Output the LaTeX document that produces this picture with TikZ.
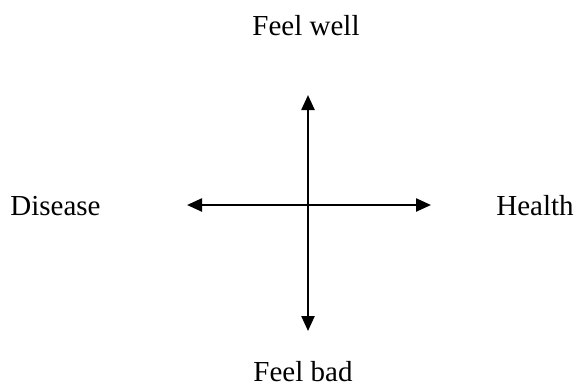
\documentclass[tikz,border=0pt]{standalone}
\usepackage{fontspec}
\setmainfont{Liberation Serif}
\usetikzlibrary{arrows.meta,positioning}

\begin{document}
\begin{tikzpicture}[x=0.5pt,y=-0.5pt,
    lbl/.style={inner sep=0pt,font=\fontsize{14.5}{17}\selectfont},
    axis/.style={line width=1.2pt,{Triangle[length=7.5pt,width=6.5pt]}-{Triangle[length=7.5pt,width=6.5pt]}}]
        \useasboundingbox (0,0) rectangle (576,386);
        \node[lbl,anchor=base] (well) at (306,35) {Feel well};
        \node[lbl,anchor=base] (bad) at (303,381) {Feel bad};
        \node[lbl,anchor=base west] (disease) at (10,215) {Disease};
        \node[lbl,anchor=base east] (health) at (574,215) {Health};
        \coordinate (top) at (308,95);
        \coordinate (bottom) at (308,331);
        \coordinate (left) at (187,205);
        \coordinate (right) at (431,205);
        \draw[axis] (top) -- (bottom);
        \draw[axis] (left) -- (right);
      \end{tikzpicture}
\end{document}
